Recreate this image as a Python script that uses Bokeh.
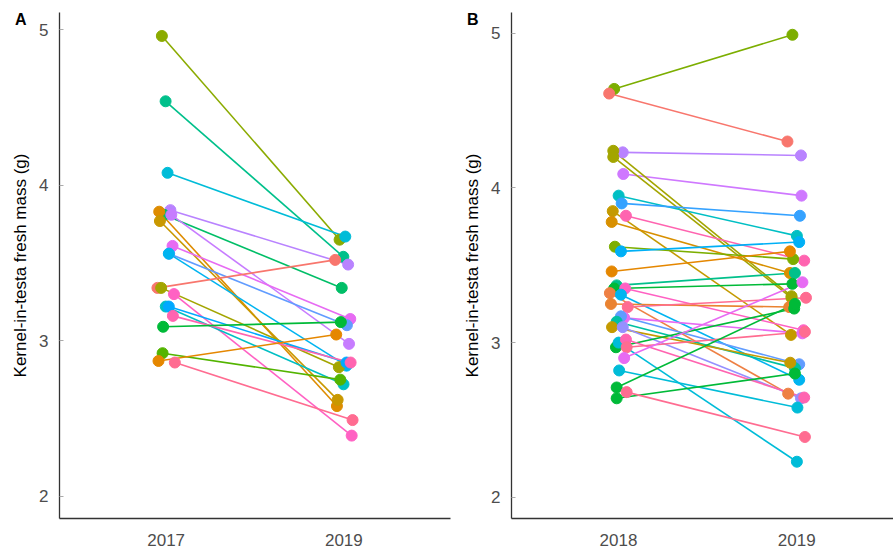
from bokeh.plotting import figure
from bokeh.layouts import row
from bokeh.models import FixedTicker, Range1d, LinearAxis, ColumnDataSource
from bokeh.embed import file_html
from bokeh.resources import INLINE

# ---------------- data ----------------
years_a = ["2017", "2019"]
years_b = ["2018", "2019"]
y_label = "Kernel-in-testa fresh mass (g)"
y_ticks = [2, 3, 4, 5]

# Panel A: one entry per genotype
a_2017 = [4.96, 4.54, 4.08, 3.84, 3.81, 3.83, 3.77, 3.81, 3.61, 3.56, 3.56,
          3.34, 3.34, 3.30, 3.22, 3.22, 3.16, 3.09, 2.92, 2.87, 2.86]
a_2019 = [3.65, 3.54, 3.67, 3.49, 3.34, 2.58, 2.62, 2.98, 3.14, 3.10, 2.84,
          3.52, 2.83, 2.39, 2.72, 2.86, 2.86, 3.12, 2.75, 3.04, 2.49]
a_jitter = [-0.024, -0.003, 0.008, 0.024, -0.012, -0.039, -0.035, 0.029, 0.036, 0.017, 0.015,
            -0.049, -0.028, 0.044, -0.002, 0.015, 0.038, -0.017, -0.020, -0.043, 0.049]
a_colors = ["#8BAB00", "#00C08B", "#00BCD8", "#B983FF", "#00BE67", "#DE8C00", "#C99800",
            "#C77CFF", "#E76BF3", "#619CFF", "#00B4F0", "#F8766D", "#A3A500", "#FF61C3",
            "#00BFC4", "#00A9FF", "#FF64B0", "#00BA38", "#53B400", "#E58700", "#FF6C91"]

# Panel B
b_2018 = [4.64, 4.61, 4.23, 4.09, 4.24, 4.20, 3.95, 3.90, 3.85, 3.82, 3.78, 3.62,
          3.59, 3.46, 3.37, 3.35, 3.32, 3.35, 3.31, 3.25, 3.23, 3.16, 3.17, 3.135,
          3.10, 3.10, 2.97, 3.00, 3.02, 2.97, 2.90, 2.82, 2.71, 2.64, 2.68]
b_2019 = [4.99, 4.30, 4.21, 3.95, 3.30, 3.29, 3.69, 3.82, 3.05, 3.53, 3.45, 3.54,
          3.65, 3.59, 3.45, 3.38, 2.67, 3.08, 2.76, 3.23, 3.29, 3.06, 2.86, 2.835,
          2.87, 2.64, 3.22, 2.23, 2.645, 3.07, 3.39, 2.58, 3.25, 2.80, 2.39]
b_jitter = [-0.024, -0.052, 0.024, 0.027, -0.029, -0.029, 0.001, 0.018, -0.032, 0.042,
            -0.038, -0.020, 0.014, -0.038, -0.010, -0.024, -0.048, 0.038, 0.014, -0.042,
            0.052, 0.032, 0.014, -0.010, -0.036, 0.024, -0.014, 0.001, 0.042, 0.046,
            0.032, 0.004, -0.010, -0.010, 0.046]
b_colors = ["#7CAE00", "#F8766D", "#B983FF", "#CF78FF", "#A3A500", "#A3A500", "#00BFC4",
            "#35A2FF", "#C49A00", "#FF64B0", "#D89000", "#7CAE00", "#00B0F6", "#E58700",
            "#00C08B", "#00BA38", "#EE8044", "#FF61C3", "#00B4F0", "#EA8331", "#FF6C91",
            "#E76BF3", "#619CFF", "#00C0A3", "#C49A00", "#9590FF", "#00BA38", "#00BCD8",
            "#FF64B0", "#FF6C91", "#E76BF3", "#00BCD8", "#00BA38", "#00BA38", "#FF6C91"]

FONT = "Liberation Sans"


def make_panel(first, second, jitter, colors, labels, yr, xr_end, width,
               border_left, border_right, tag, tag_y):
    src = ColumnDataSource(dict(
        x0=[1 + j for j in jitter], x1=[2 + j for j in jitter],
        y0=first, y1=second, c=colors))
    p = figure(width=width, height=548, output_backend="svg", toolbar_location=None,
               x_range=Range1d(0.4, xr_end), y_range=Range1d(*yr),
               min_border_left=border_left, min_border_right=border_right,
               min_border_top=12, min_border_bottom=29)
    p.segment("x0", "y0", "x1", "y1", source=src, line_color="c", line_width=1.6)
    p.scatter("x0", "y0", source=src, size=11, fill_color="c", line_color="c")
    p.scatter("x1", "y1", source=src, size=11, fill_color="c", line_color="c")
    p.xgrid.visible = False
    p.ygrid.visible = False
    p.outline_line_color = None
    p.background_fill_color = "white"
    p.border_fill_color = "white"

    p.xaxis.ticker = FixedTicker(ticks=[1, 2])
    p.xaxis.major_label_overrides = {1: labels[0], 2: labels[1]}
    p.yaxis.ticker = FixedTicker(ticks=y_ticks)
    p.yaxis.axis_label = y_label
    for ax in (p.xaxis[0], p.yaxis[0]):
        ax.axis_line_color = "#333333"
        ax.axis_line_width = 1.3
        ax.minor_tick_line_color = None
        ax.major_label_text_font = FONT
        ax.major_label_text_font_size = "17px"
        ax.major_label_text_color = "#4D4D4D"
        ax.axis_label_text_font = FONT
        ax.axis_label_text_font_style = "normal"
        ax.axis_label_text_font_size = "17px"
        ax.axis_label_text_color = "black"
    p.xaxis.major_tick_line_color = None
    p.xaxis.major_label_standoff = 9
    p.yaxis.major_tick_in = 4
    p.yaxis.major_tick_out = 0
    p.yaxis.major_tick_line_color = "#AAAAAA"
    p.yaxis.major_label_standoff = 11
    p.yaxis.axis_label_standoff = 6

    # panel tag ("A"/"B") drawn as the only label of an outer left axis
    tag_axis = LinearAxis(ticker=FixedTicker(ticks=[tag_y]),
                          major_label_overrides={tag_y: tag},
                          axis_line_color=None, major_tick_line_color=None,
                          minor_tick_line_color=None,
                          major_tick_in=0, major_tick_out=0,
                          major_label_standoff=-18,
                          major_label_text_font=FONT,
                          major_label_text_font_style="bold",
                          major_label_text_font_size="16px",
                          major_label_text_color="black")
    p.add_layout(tag_axis, "left")
    return p


pa = make_panel(a_2017, a_2019, a_jitter, a_colors, years_a, (1.857, 5.111), 2.6,
                455, 59, 5, "A", 5.063)
pb = make_panel(b_2018, b_2019, b_jitter, b_colors, years_b, (1.863, 5.134), 2.543,
                438, 56, 0, "B", 5.086)

layout = row(pa, pb)
open("out.html", "w").write(file_html(layout, INLINE))
